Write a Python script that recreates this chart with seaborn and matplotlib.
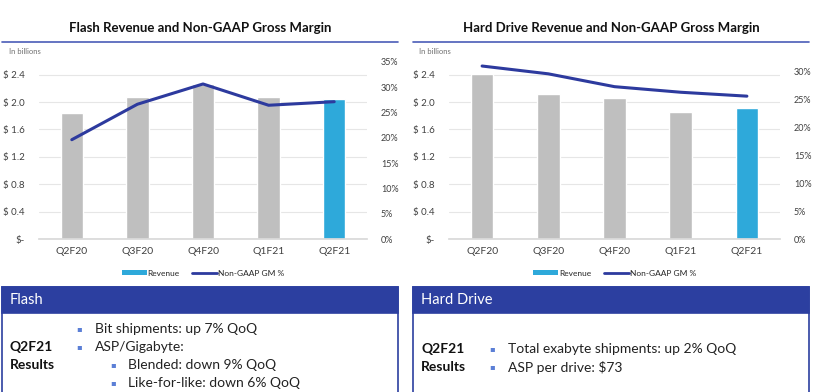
import matplotlib
matplotlib.use("Agg")
import matplotlib.pyplot as plt
from matplotlib.patches import Rectangle, Patch
from matplotlib.lines import Line2D
import seaborn as sns

# =====================================================
# Data
# =====================================================
quarters = ["Q2F20", "Q3F20", "Q4F20", "Q1F21", "Q2F21"]

flash_revenue = [1.84, 2.07, 2.26, 2.08, 2.04]
flash_gm = [19.6, 26.6, 30.6, 26.4, 27.1]

hdd_revenue = [2.41, 2.12, 2.06, 1.85, 1.92]
hdd_gm = [31.0, 29.6, 27.3, 26.3, 25.6]

left_ticks = [0, 0.4, 0.8, 1.2, 1.6, 2.0, 2.4]
left_labels = ["$-", "$ 0.4", "$ 0.8", "$ 1.2", "$ 1.6", "$ 2.0", "$ 2.4"]

flash_notes = ["Bit shipments: up 7% QoQ", "ASP/Gigabyte:"]
flash_subnotes = ["Blended: down 9% QoQ", "Like-for-like: down 6% QoQ"]
hdd_notes = ["Total exabyte shipments: up 2% QoQ", "ASP per drive: $73"]

# =====================================================
# Style
# =====================================================
sns.set_theme(style="white")
plt.rcParams["font.family"] = ["Lato", "DejaVu Sans"]

GRAY = "#BFBFBF"
CYAN = "#2EA9DA"
NAVY = "#2D3A9E"
HEADER = "#2C3FA0"
TEXT = "#404040"

W, H = 826, 392
fig = plt.figure(figsize=(W / 100, H / 100), dpi=100)


def fx(px):
    return px / W


def fy(py):
    return 1 - py / H


def chart(x0, x1, title, revenue, gm, right_max, right_ticks, line_x0, line_x1):
    ax = fig.add_axes([fx(x0), fy(239), fx(x1 - x0), (239 - 61) / H])
    sns.barplot(x=quarters, y=revenue, hue=quarters,
                palette=[GRAY, GRAY, GRAY, GRAY, CYAN], legend=False,
                width=0.34, saturation=1, ax=ax, zorder=2)
    ax.set_ylim(0, 2.6)
    ax.set_xlim(-0.5, 4.5)
    ax.set_yticks(left_ticks)
    ax.set_yticklabels(left_labels, fontsize=7, color=TEXT)
    ax.tick_params(axis="x", length=0, labelsize=7.5, labelcolor=TEXT, pad=6)
    ax.tick_params(axis="y", length=0, pad=10)
    ax.set_xticks([-0.5, 0.5, 1.5, 2.5, 3.5, 4.5], minor=True)
    ax.tick_params(axis="x", which="minor", length=3, color="#D9D9D9", width=0.8)
    ax.grid(axis="y", color="#E6E6E6", lw=0.8, zorder=0)
    for s in ["top", "left", "right"]:
        ax.spines[s].set_visible(False)
    ax.spines["bottom"].set_color("#D9D9D9")
    ax.set_xlabel("")
    ax.set_ylabel("")

    ax2 = ax.twinx()
    sns.lineplot(x=quarters, y=gm, color=NAVY, lw=2.2, ax=ax2, zorder=3)
    ax2.set_ylim(0, right_max)
    ax2.set_yticks(right_ticks)
    ax2.set_yticklabels([f"{t}%" for t in right_ticks], fontsize=6.5, color=TEXT)
    ax2.tick_params(axis="y", length=0, pad=10)
    for s in ["top", "left", "right", "bottom"]:
        ax2.spines[s].set_visible(False)
    ax2.set_ylabel("")

    fig.text(fx((line_x0 + line_x1) / 2), fy(28), title, ha="center", va="center",
             fontsize=9.5, fontweight="bold", color="#111111")
    fig.add_artist(Line2D([fx(line_x0), fx(line_x1)], [fy(42), fy(42)],
                          color="#4A5CB8", lw=1.2))
    fig.text(fx(x0 - 30), fy(52), "In billions", fontsize=5.5, color="#707070",
             va="center")

    handles = [Patch(facecolor=CYAN, edgecolor="none"),
               Line2D([0], [0], color=NAVY, lw=2)]
    ax.legend(handles, ["Revenue", "Non-GAAP GM %"], loc="center",
              bbox_to_anchor=(0.5, -(273 - 239) / (239 - 61)), ncol=2,
              frameon=False, fontsize=6, handlelength=3, handleheight=0.6,
              columnspacing=1.5, handletextpad=0.1)


chart(39, 367, "Flash Revenue and Non-GAAP Gross Margin",
      flash_revenue, flash_gm, 35 * 2.6 / 2.59, [0, 5, 10, 15, 20, 25, 30, 35], 2, 398)
chart(449, 780, "Hard Drive Revenue and Non-GAAP Gross Margin",
      hdd_revenue, hdd_gm, 31.9, [0, 5, 10, 15, 20, 25, 30], 413, 809)


# =====================================================
# Result boxes
# =====================================================
def box(x0, x1, header):
    fig.add_artist(Rectangle((fx(x0), fy(H + 5)), fx(x1 - x0), (H + 5 - 287) / H,
                             facecolor="white", edgecolor=HEADER, lw=1.2))
    fig.add_artist(Rectangle((fx(x0), fy(313)), fx(x1 - x0), (313 - 287) / H,
                             facecolor=HEADER, edgecolor=HEADER, lw=1.2))
    fig.text(fx(x0 + 8), fy(300), header, color="white", fontsize=10.5, va="center")


def bullet(x, y):
    fig.text(fx(x), fy(y), "\u25aa", color="#5B7FD6", fontsize=6, va="center",
             family="DejaVu Sans")


box(2, 398, "Flash")
box(413, 809, "Hard Drive")

fig.text(fx(10), fy(347), "Q2F21", fontsize=10, fontweight="bold", color="#111111", va="center")
fig.text(fx(10), fy(365), "Results", fontsize=10, fontweight="bold", color="#111111", va="center")
for i, note in enumerate(flash_notes):
    y = 329 + 18 * i
    bullet(76, y)
    fig.text(fx(95), fy(y), note, fontsize=10, color="#222222", va="center")
for i, note in enumerate(flash_subnotes):
    y = 365 + 18 * i
    bullet(110, y)
    fig.text(fx(128), fy(y), note, fontsize=10, color="#222222", va="center")

fig.text(fx(421), fy(349), "Q2F21", fontsize=10, fontweight="bold", color="#111111", va="center")
fig.text(fx(421), fy(367), "Results", fontsize=10, fontweight="bold", color="#111111", va="center")
for i, note in enumerate(hdd_notes):
    y = 349 + 18 * i
    bullet(489, y)
    fig.text(fx(508), fy(y), note, fontsize=10, color="#222222", va="center")

fig.savefig("out.png", dpi=100)
